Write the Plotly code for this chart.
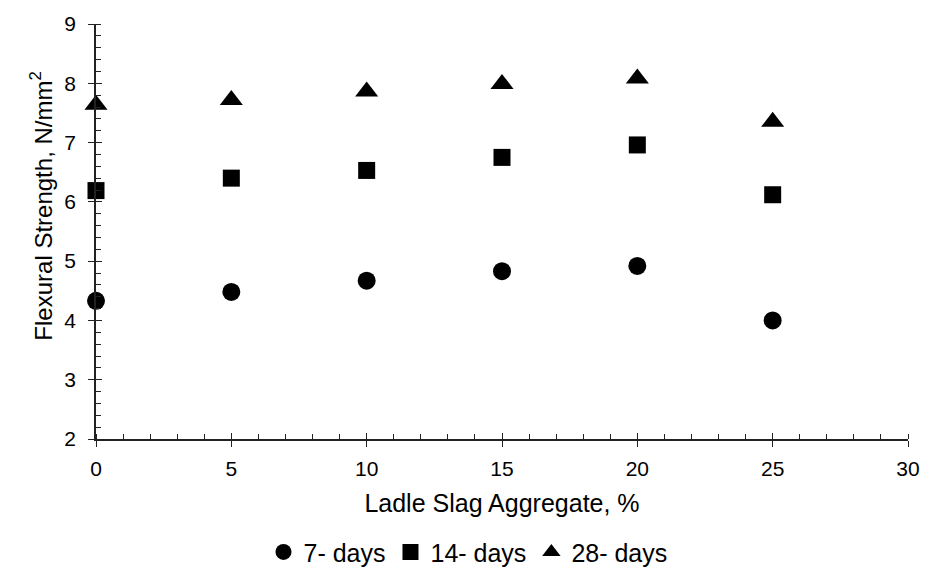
import plotly.graph_objects as go

# Data
slag_pct = [0, 5, 10, 15, 20, 25]
days7 = [4.33, 4.48, 4.67, 4.83, 4.92, 4.00]
days14 = [6.19, 6.40, 6.53, 6.75, 6.96, 6.12]
days28 = [7.64, 7.72, 7.86, 7.99, 8.08, 7.35]

series_names = ["7- days", "14- days", "28- days"]
series_values = [days7, days14, days28]
series_symbols = ["circle", "square", "triangle-up"]
series_sizes = [18, 17, 20]

x_ticks = [0, 5, 10, 15, 20, 25, 30]
y_ticks = [2, 3, 4, 5, 6, 7, 8, 9]

x_title = "Ladle Slag Aggregate, %"
y_title = "Flexural Strength, N/mm<sup>2</sup>"

FONT = "Liberation Sans, Arial, sans-serif"

fig = go.Figure()
for name, vals, sym, sz in zip(series_names, series_values, series_symbols, series_sizes):
    fig.add_trace(go.Scatter(
        x=slag_pct, y=vals, mode="markers", name=name,
        marker=dict(symbol=sym, size=sz, color="black", line=dict(width=0)),
        cliponaxis=False,
    ))

# helper trace for overlay axes (inner half of the crossing major ticks)
fig.add_trace(go.Scatter(x=[], y=[], xaxis="x2", yaxis="y2", showlegend=False, hoverinfo="skip"))

common_axis = dict(showgrid=False, zeroline=False)

fig.update_layout(
    width=936, height=574,
    margin=dict(l=96, r=28, t=21, b=135),
    paper_bgcolor="white", plot_bgcolor="white",
    font=dict(family=FONT, size=21, color="black"),
    xaxis=dict(
        range=[0, 30], tickvals=x_ticks, ticktext=[str(v) for v in x_ticks],
        ticks="outside", ticklen=6, tickwidth=1.3, tickcolor="#222",
        showline=True, linecolor="#222", linewidth=1.5,
        minor=dict(dtick=1, ticks="inside", ticklen=5, tickwidth=1.3, tickcolor="#222", showgrid=False),
        title=dict(text=x_title, standoff=16, font=dict(size=25)),
        tickfont=dict(size=21),
        ticklabelstandoff=4,
        **common_axis,
    ),
    yaxis=dict(
        range=[2, 9], tickvals=y_ticks, ticktext=[str(v) for v in y_ticks],
        ticks="outside", ticklen=6, tickwidth=1.3, tickcolor="#222",
        showline=True, linecolor="#222", linewidth=1.5,
        minor=dict(dtick=0.2, ticks="inside", ticklen=5, tickwidth=1.3, tickcolor="#222", showgrid=False),
        tickfont=dict(size=21),
        ticklabelstandoff=8,
        **common_axis,
    ),
    xaxis2=dict(
        range=[0, 30], overlaying="x", anchor="y2", tickvals=x_ticks,
        ticks="inside", ticklen=6, tickwidth=1.3, tickcolor="#222",
        showticklabels=False, showline=False, **common_axis,
    ),
    yaxis2=dict(
        range=[2, 9], overlaying="y", anchor="x2", tickvals=y_ticks,
        ticks="inside", ticklen=6, tickwidth=1.3, tickcolor="#222",
        showticklabels=False, showline=False, **common_axis,
    ),
    legend=dict(
        orientation="h", xref="container", yref="container",
        x=0.5, xanchor="center", y=0.038, yanchor="middle",
        font=dict(size=25), itemwidth=30, traceorder="normal",
    ),
    annotations=[dict(
        text=y_title, xref="paper", yref="paper",
        x=-0.0677, y=0.56, xanchor="center", yanchor="middle",
        textangle=-90, showarrow=False, font=dict(size=24),
    )],
)

fig.write_html("out.html", config={"displayModeBar": False},
               post_script="document.body.style.margin='0';")
